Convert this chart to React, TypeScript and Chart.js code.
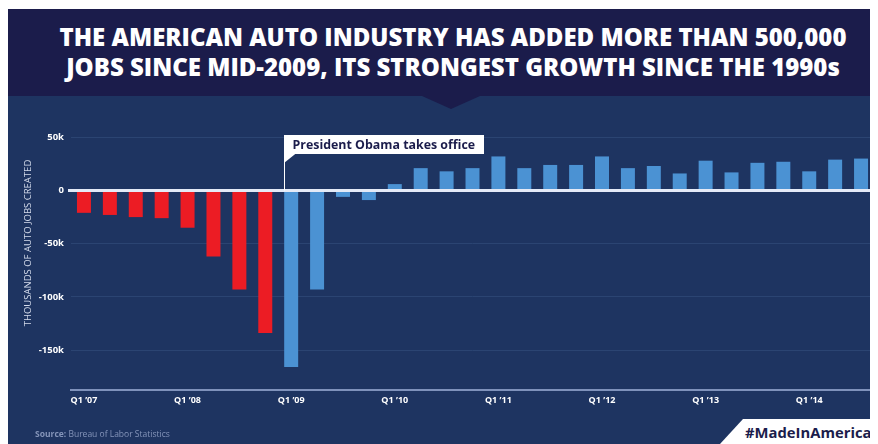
import React, { useEffect, useRef } from "react";
import { Chart, registerables } from "chart.js";

Chart.register(...registerables);

const quarters = [
  "Q1 ’07", "Q2 ’07", "Q3 ’07", "Q4 ’07",
  "Q1 ’08", "Q2 ’08", "Q3 ’08", "Q4 ’08",
  "Q1 ’09", "Q2 ’09", "Q3 ’09", "Q4 ’09",
  "Q1 ’10", "Q2 ’10", "Q3 ’10", "Q4 ’10",
  "Q1 ’11", "Q2 ’11", "Q3 ’11", "Q4 ’11",
  "Q1 ’12", "Q2 ’12", "Q3 ’12", "Q4 ’12",
  "Q1 ’13", "Q2 ’13", "Q3 ’13", "Q4 ’13",
  "Q1 ’14", "Q2 ’14", "Q3 ’14",
];

// thousands of auto jobs created per quarter
const jobsCreated = [
  -21, -23, -25, -26,
  -35, -62, -93, -134,
  -166, -93, -6, -9,
  6, 21, 18, 21,
  32, 21, 24, 24,
  32, 21, 23, 16,
  28, 17, 26, 27,
  18, 29, 30,
];

const yTickValues = [50, 0, -50, -100, -150];
const yMin = -187.5;
const yMax = 70;

const inaugurationQuarter = "Q1 ’09";
const annotationText = "President Obama takes office";
const yAxisTitle = "THOUSANDS OF AUTO JOBS CREATED";
const titleLine1 = "THE AMERICAN AUTO INDUSTRY HAS ADDED MORE THAN 500,000";
const titleLine2 = "JOBS SINCE MID-2009, ITS STRONGEST GROWTH SINCE THE 1990s";
const sourceLabel = "Source:";
const sourceText = " Bureau of Labor Statistics";
const hashtag = "#MadeInAmerica";

const NAVY = "#1b1c4b";
const BODY = "#1e3461";
const RED = "#ec1c24";
const BLUE = "#4b92d3";

export default function App() {
  const canvasRef = useRef<HTMLCanvasElement | null>(null);

  useEffect(() => {
    const canvas = canvasRef.current;
    if (!canvas) return;
    const startIdx = quarters.indexOf(inaugurationQuarter);

    const overlay = {
      id: "overlay",
      afterDatasetsDraw(chart: any) {
        const { ctx, chartArea, scales } = chart;
        const y0 = scales.y.getPixelForValue(0);
        ctx.save();
        // y axis title
        ctx.save();
        ctx.translate(20, chartArea.top + 127);
        ctx.rotate(-Math.PI / 2);
        ctx.fillStyle = "#d5dcec";
        ctx.font = "9.5px 'Open Sans'";
        ctx.textAlign = "center";
        ctx.textBaseline = "middle";
        ctx.fillText(yAxisTitle, 0, 0);
        ctx.restore();

        // zero line
        ctx.strokeStyle = "#e4eaf7";
        ctx.lineWidth = 3;
        ctx.beginPath();
        ctx.moveTo(chartArea.left - 3, y0);
        ctx.lineTo(chart.width, y0);
        ctx.stroke();

        // annotation
        const bar = chart.getDatasetMeta(0).data[startIdx];
        const x = Math.round(bar.x - bar.width / 2) + 0.5;
        const boxTop = chartArea.top + 19;
        const boxH = 19;
        const boxW = 200;
        ctx.strokeStyle = "#ffffff";
        ctx.lineWidth = 1;
        ctx.beginPath();
        ctx.moveTo(x, boxTop + boxH);
        ctx.lineTo(x, y0);
        ctx.stroke();
        ctx.fillStyle = "#ffffff";
        ctx.fillRect(x - 0.5, boxTop, boxW, boxH);
        ctx.beginPath();
        ctx.moveTo(x - 0.5, boxTop + boxH - 1);
        ctx.lineTo(x - 0.5, boxTop + boxH + 9);
        ctx.lineTo(x + 12, boxTop + boxH - 1);
        ctx.closePath();
        ctx.fill();
        ctx.fillStyle = NAVY;
        ctx.font = "bold 12.4px 'Open Sans'";
        ctx.textBaseline = "middle";
        ctx.textAlign = "left";
        ctx.fillText(annotationText, x + 8, boxTop + boxH / 2 + 0.5);
        ctx.restore();
      },
    };

    const chart = new Chart(canvas, {
      type: "bar",
      data: {
        labels: quarters,
        datasets: [
          {
            data: jobsCreated,
            backgroundColor: jobsCreated.map((_, i) => (i < startIdx ? RED : BLUE)),
            categoryPercentage: 1,
            barPercentage: 0.54,
            borderWidth: 0,
          },
        ],
      },
      options: {
        animation: false,
        responsive: false,
        devicePixelRatio: 1,
        layout: { padding: { left: 0, right: 4, top: 20, bottom: 0 } },
        plugins: { legend: { display: false }, tooltip: { enabled: false } },
        scales: {
          x: {
            afterFit: (s: any) => {
              s.height = 54;
            },
            grid: { display: false, drawTicks: false },
            border: { display: true, color: "#7f92bb", width: 2 },
            ticks: {
              autoSkip: false,
              maxRotation: 0,
              padding: 5,
              color: "#ffffff",
              font: { family: "'Open Sans'", size: 9, weight: "bold" },
              callback: (_v: any, i: number) => (i % 4 === 0 ? quarters[i] : ""),
            },
          },
          y: {
            min: yMin,
            max: yMax,
            afterFit: (s: any) => {
              s.width = 63;
            },
            afterBuildTicks: (s: any) => {
              s.ticks = yTickValues.map((v) => ({ value: v }));
            },
            border: { display: false },
            grid: {
              drawTicks: false,
              color: (c: any) => (c.tick && c.tick.value === 0 ? "rgba(0,0,0,0)" : "#2b4472"),
              lineWidth: 1,
            },
            ticks: {
              padding: 7,
              color: "#ffffff",
              font: { family: "'Open Sans'", size: 9.5, weight: "bold" },
              callback: (v: any) => (v === 0 ? "0" : `${v}k`),
            },
          },
        },
      },
      plugins: [overlay],
    });
    return () => chart.destroy();
  }, []);

  return (
    <div
      style={{
        position: "relative",
        width: 870,
        height: 435,
        marginTop: 1,
        background: BODY,
        overflow: "hidden",
        fontFamily: "'Open Sans', sans-serif",
      }}
    >
      <div style={{ position: "absolute", left: 0, top: 0, width: 870, height: 87, background: NAVY }} />
      <canvas
        ref={canvasRef}
        width={870}
        height={348}
        style={{ position: "absolute", left: 0, top: 87, width: 870, height: 348 }}
      />
      <div
        style={{
          position: "absolute",
          left: 414,
          top: 87,
          width: 0,
          height: 0,
          borderLeft: "29px solid transparent",
          borderRight: "29px solid transparent",
          borderTop: `13px solid ${NAVY}`,
        }}
      />
      <div
        style={{
          position: "absolute",
          left: 0,
          top: 13,
          width: 890,
          textAlign: "center",
          color: "#ffffff",
          fontWeight: 800,
          fontSize: 24,
          lineHeight: "30px",
          whiteSpace: "nowrap",
        }}
      >
        <div style={{ display: "inline-block" }}>{titleLine1}</div>
        <br />
        <div style={{ display: "inline-block" }}>{titleLine2}</div>
      </div>
      <div
        style={{
          position: "absolute",
          left: 27,
          top: 419,
          fontSize: 8.5,
          lineHeight: "12px",
          color: "#8494b9",
          whiteSpace: "nowrap",
        }}
      >
        <b>{sourceLabel}</b>
        {sourceText}
      </div>
      <div
        style={{
          position: "absolute",
          left: 712,
          top: 410,
          width: 158,
          height: 25,
          background: "#ffffff",
          clipPath: "polygon(23px 0, 100% 0, 100% 100%, 0 100%)",
        }}
      >
        <div
          style={{
            position: "absolute",
            left: 25,
            top: 2,
            fontSize: 14.8,
            lineHeight: "22px",
            fontWeight: 700,
            color: NAVY,
            whiteSpace: "nowrap",
          }}
        >
          {hashtag}
        </div>
      </div>
    </div>
  );
}
